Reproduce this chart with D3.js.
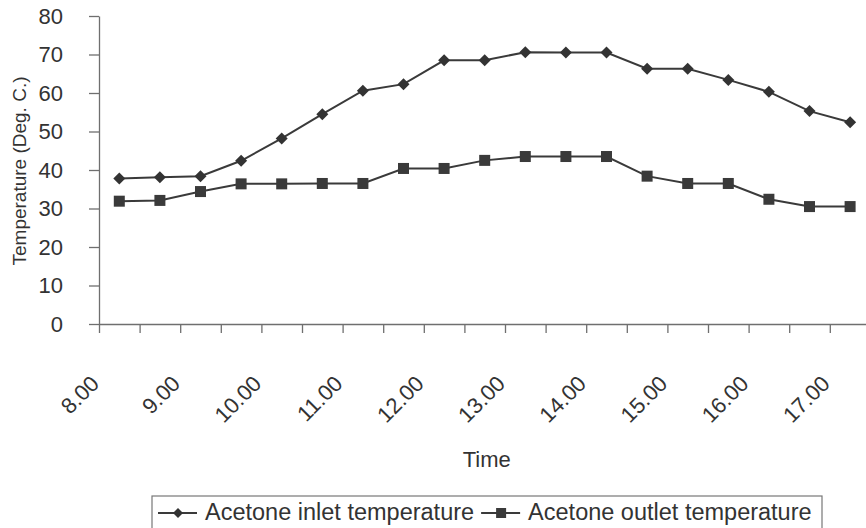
<!DOCTYPE html>
<html>
<head>
<meta charset="utf-8">
<script src="https://cdn.jsdelivr.net/npm/d3@7"></script>
<style>
  html, body { margin: 0; padding: 0; background: #fff; }
  svg { display: block; }
  text { font-family: "Liberation Sans", Arial, Helvetica, sans-serif; fill: #333; }
</style>
</head>
<body>
<svg id="chart" width="866" height="528"></svg>
<script>
// ---- data ----
const times = ["8.00","8.30","9.00","9.30","10.00","10.30","11.00","11.30","12.00","12.30",
               "13.00","13.30","14.00","14.30","15.00","15.30","16.00","16.30","17.00"];
const inletTemp  = [37.8, 38.1, 38.4, 42.4, 48.2, 54.5, 60.6, 62.3, 68.5, 68.5,
                    70.6, 70.5, 70.5, 66.3, 66.3, 63.4, 60.3, 55.3, 52.4];
const outletTemp = [31.9, 32.1, 34.4, 36.4, 36.4, 36.5, 36.5, 40.4, 40.4, 42.5,
                    43.5, 43.5, 43.5, 38.4, 36.5, 36.5, 32.4, 30.5, 30.5];
const xTickLabels = ["8.00","9.00","10.00","11.00","12.00","13.00","14.00","15.00","16.00","17.00"];
const yTicks = [0, 10, 20, 30, 40, 50, 60, 70, 80];
const seriesNames = ["Acetone inlet temperature", "Acetone outlet temperature"];

(function () {
// ---- layout ----
const svg = d3.select("#chart");
const left = 99, plotTop = 16, bottom = 324, bandW = 40.6;
const right = left + bandW * times.length;

const x = d3.scaleBand().domain(times).range([left, right]).padding(0);
const xb = d3.scaleLinear().domain([0, times.length]).range([left, right]);
const y = d3.scaleLinear().domain([0, 80]).range([bottom, plotTop]);

const axisColor = "#6f6f6f";
const lineColor = "#3a3a3a";

// y axis
const yAxis = svg.append("g")
  .attr("transform", `translate(${left},0)`)
  .call(d3.axisLeft(y).tickValues(yTicks).tickSize(10).tickSizeOuter(0).tickPadding(26));
yAxis.select(".domain").attr("stroke", axisColor).attr("stroke-width", 1.3);
yAxis.selectAll(".tick line").attr("stroke", axisColor).attr("stroke-width", 1.3);
yAxis.selectAll(".tick text").attr("font-size", 22).attr("fill", "#333")
  .attr("font-family", "Liberation Sans, Arial, sans-serif");

// x axis (ticks at category boundaries)
const xAxis = svg.append("g")
  .attr("transform", `translate(0,${bottom})`)
  .call(d3.axisBottom(xb).tickValues(d3.range(0, times.length + 1)).tickSize(9).tickSizeOuter(0).tickFormat(""));
xAxis.select(".domain").attr("stroke", axisColor).attr("stroke-width", 1.3);
xAxis.selectAll(".tick line").attr("stroke", axisColor).attr("stroke-width", 1.3);

// x labels, rotated
const labelG = svg.append("g");
times.forEach(t => {
  if (!xTickLabels.includes(t)) return;
  const cx = x(t) + x.bandwidth() / 2 - 19;
  const cy = 385;
  labelG.append("text")
    .attr("transform", `translate(${cx},${cy}) rotate(-45)`)
    .attr("text-anchor", "end")
    .attr("font-size", 22)
    .text(t);
});

// axis titles
svg.append("text")
  .attr("x", (left + right) / 2 + 2).attr("y", 467)
  .attr("text-anchor", "middle").attr("font-size", 22)
  .text("Time");
svg.append("text")
  .attr("transform", `translate(26,171) rotate(-90)`)
  .attr("text-anchor", "middle").attr("font-size", 19)
  .text("Temperature (Deg. C.)");

// lines
const line = d3.line().x((d, i) => x(times[i]) + x.bandwidth() / 2).y(d => y(d));
const diamond = s => `M0,${-s}L${s},0L0,${s}L${-s},0Z`;

function drawSeries(vals, marker) {
  svg.append("path").datum(vals)
    .attr("d", line).attr("fill", "none")
    .attr("stroke", lineColor).attr("stroke-width", 2);
  const g = svg.append("g");
  vals.forEach((v, i) => {
    const px = x(times[i]) + x.bandwidth() / 2, py = y(v);
    if (marker === "diamond") {
      g.append("path").attr("d", diamond(6)).attr("transform", `translate(${px},${py})`)
        .attr("fill", "#333");
    } else {
      g.append("rect").attr("x", px - 5.5).attr("y", py - 5.5).attr("width", 11).attr("height", 11)
        .attr("fill", "#3a3a3a");
    }
  });
}
drawSeries(inletTemp, "diamond");
drawSeries(outletTemp, "square");

// legend
const lg = svg.append("g");
lg.append("rect").attr("x", 152).attr("y", 496).attr("width", 670).attr("height", 36)
  .attr("fill", "#fff").attr("stroke", "#777").attr("stroke-width", 1.2);
const legendItems = [
  { name: seriesNames[0], marker: "diamond" },
  { name: seriesNames[1], marker: "square" }
];
let cursor = 158;
legendItems.forEach(it => {
  const ly = 513;
  lg.append("line").attr("x1", cursor).attr("x2", cursor + 39).attr("y1", ly).attr("y2", ly)
    .attr("stroke", lineColor).attr("stroke-width", 2);
  if (it.marker === "diamond") {
    lg.append("path").attr("d", diamond(5)).attr("transform", `translate(${cursor + 20},${ly})`).attr("fill", "#333");
  } else {
    lg.append("rect").attr("x", cursor + 15).attr("y", ly - 5).attr("width", 10).attr("height", 10).attr("fill", "#3a3a3a");
  }
  const t = lg.append("text").attr("x", cursor + 47).attr("y", 520).attr("font-size", 23.5).text(it.name);
  cursor = cursor + 47 + t.node().getComputedTextLength() + 7;
});
})();
</script>
</body>
</html>
